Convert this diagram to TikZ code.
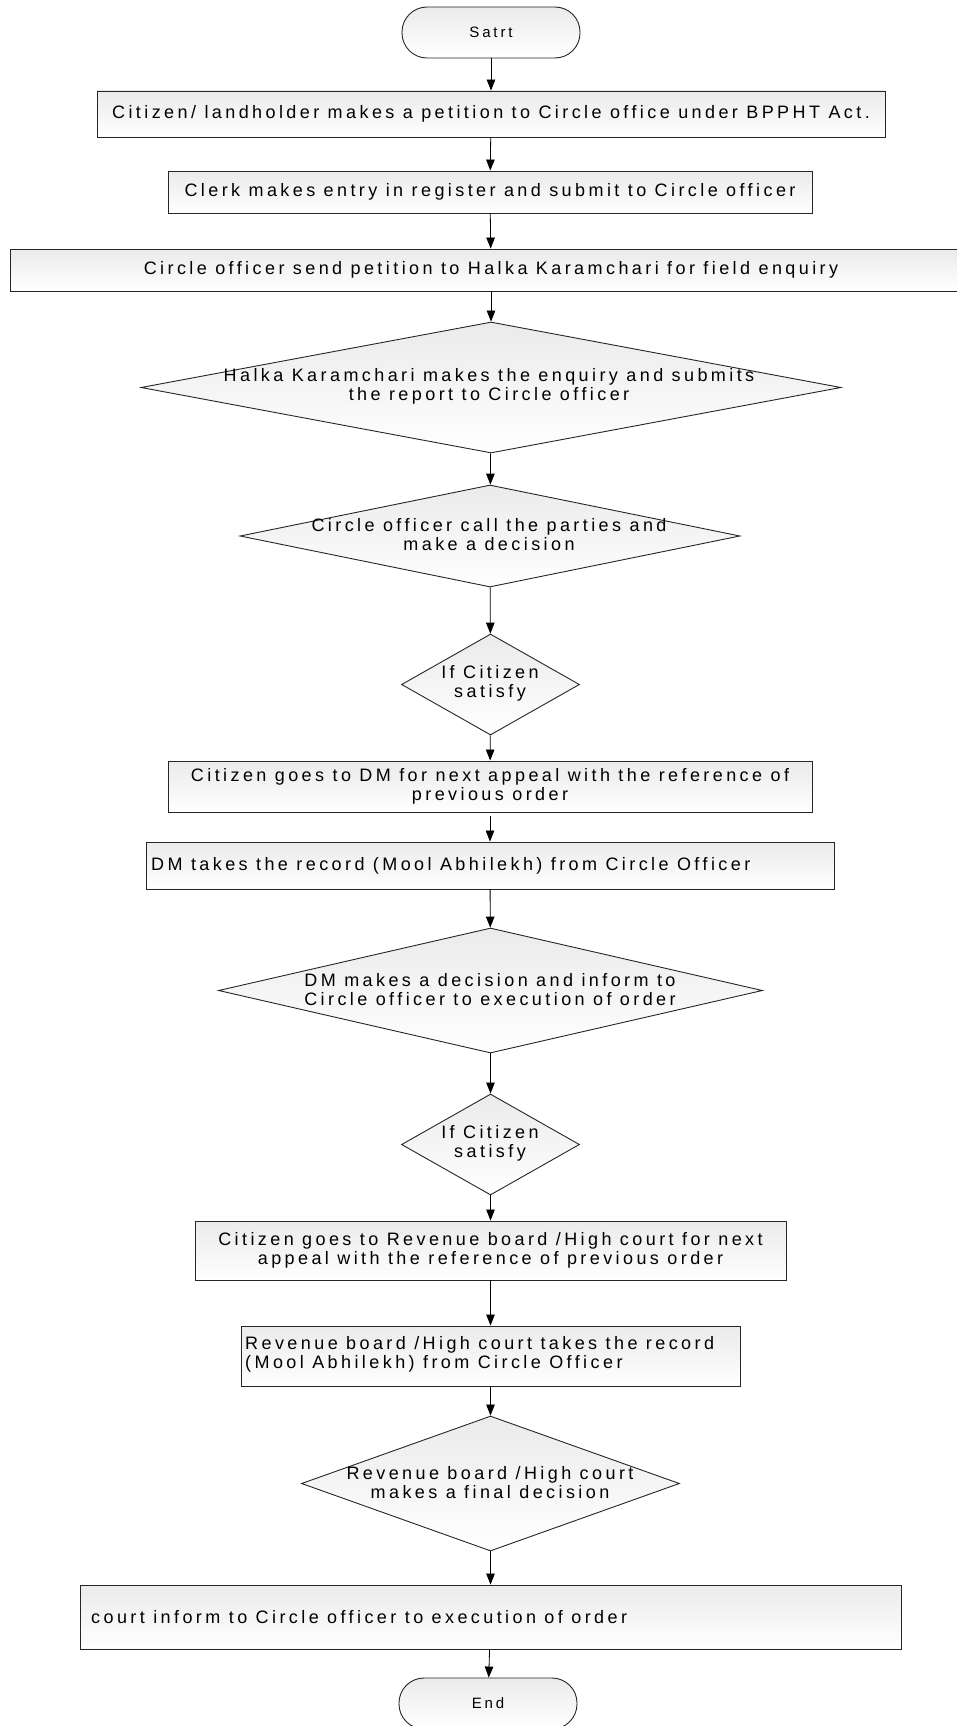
\documentclass[tikz,border=0pt]{standalone}
\usepackage{fontspec}
\newfontfamily\flowfont{Liberation Sans}[LetterSpace=19]
\usetikzlibrary{shapes.geometric,arrows.meta}

\begin{document}
\begin{tikzpicture}[x=1pt,y=-1pt,
  base/.style={draw=black!85, line width=0.9pt, top color=gray!16, bottom color=white,
    font=\flowfont\fontsize{18}{19}\selectfont, align=center, inner sep=0pt},
  proc/.style={base, rectangle},
  dec/.style={base, diamond, aspect=1},
  term/.style={base, rectangle, rounded corners=25pt, minimum width=178pt, minimum height=51pt,
    font=\flowfont\fontsize{15}{18}\selectfont},
  arr/.style={draw=black, line width=0.8pt, -{Triangle[length=11pt,width=8.5pt]}},
  txt/.style={font=\flowfont\fontsize{18}{19}\selectfont, align=center, inner sep=0pt}
]
\useasboundingbox (0,0) rectangle (956,1726);
\fill[white] (0,0) rectangle (956,1726);

% terminals and process boxes
\node[term] (start) at (491,32.5) {Satrt};
\node[proc, minimum width=788pt, minimum height=46pt] (b1) at (491,114)
  {Citizen/ landholder makes a petition to Circle office under BPPHT Act.};
\node[proc, minimum width=644pt, minimum height=42pt] (b2) at (490,192)
  {Clerk makes entry in register and submit to Circle officer};
\node[proc, minimum width=962pt, minimum height=42pt] (b3) at (491,270)
  {Circle officer send petition to Halka Karamchari for field enquiry};

% decisions (text placed on top of each diamond)
\node[dec, minimum width=700pt, minimum height=131pt] (d1) at (491,387.5) {};
\node[txt] (d1t) at (489,386) {Halka Karamchari makes the enquiry and submits\\the report to Circle officer};
\node[dec, minimum width=500pt, minimum height=102pt] (d2) at (490,536) {};
\node[txt] (d2t) at (489,534.5) {Circle officer call the parties and\\make a decision};
\node[dec, minimum width=178pt, minimum height=101pt] (d3) at (490.5,684.5) {};
\node[txt] (d3t) at (490,683.5) {If Citizen\\satisfy};

\node[proc, minimum width=644pt, minimum height=51pt] (b4) at (490,786.5)
  {Citizen goes to DM for next appeal with the reference of\\previous order};

\node[proc, minimum width=688pt, minimum height=47pt] (b5) at (490,865.5) {};
\node[txt, anchor=west] (b5t) at (151,865.5) {DM takes the record (Mool Abhilekh) from Circle Officer};

\node[dec, minimum width=544pt, minimum height=125pt] (d4) at (490.5,990.5) {};
\node[txt] (d4t) at (490,989.5) {DM makes a decision and inform to\\Circle officer to execution of order};
\node[dec, minimum width=178pt, minimum height=101pt] (d5) at (490.5,1144.5) {};
\node[txt] (d5t) at (490,1143.5) {If Citizen\\satisfy};

\node[proc, minimum width=591pt, minimum height=59pt] (b6) at (490.5,1250.5)
  {Citizen goes to Revenue board /High court for next\\appeal with the reference of previous order};

\node[proc, minimum width=499pt, minimum height=60pt] (b7) at (490.5,1356) {};
\node[txt, anchor=west, align=left] (b7t) at (245,1354) {Revenue board /High court takes the record\\(Mool Abhilekh) from Circle Officer};

\node[dec, minimum width=378pt, minimum height=135pt] (d6) at (490.5,1483.5) {};
\node[txt] (d6t) at (490,1482.5) {Revenue board /High court\\makes a final decision};

\node[proc, minimum width=821pt, minimum height=64pt] (b8) at (490.5,1617) {};
\node[txt, anchor=west] (b8t) at (91,1617) {court inform to Circle officer to execution of order};

\node[term] (end) at (488,1703.5) {End};

% connectors
\draw[arr] (start) -- (b1);
\draw[arr] (b1) -- (b2);
\draw[arr] (b2) -- (b3);
\draw[arr] (b3) -- (d1);
\draw[arr] (d1) -- (d2);
\draw[arr] (d2) -- (d3);
\draw[arr] (d3) -- (b4);
\draw[arr, shorten <=4pt] (b4) -- (b5);
\draw[arr] (b5) -- (d4);
\draw[arr] (d4) -- (d5);
\draw[arr] (d5) -- (b6);
\draw[arr] (b6) -- (b7);
\draw[arr] (b7) -- (d6);
\draw[arr] (d6) -- (b8);
\draw[arr] (b8) -- (end);
\end{tikzpicture}
\end{document}
